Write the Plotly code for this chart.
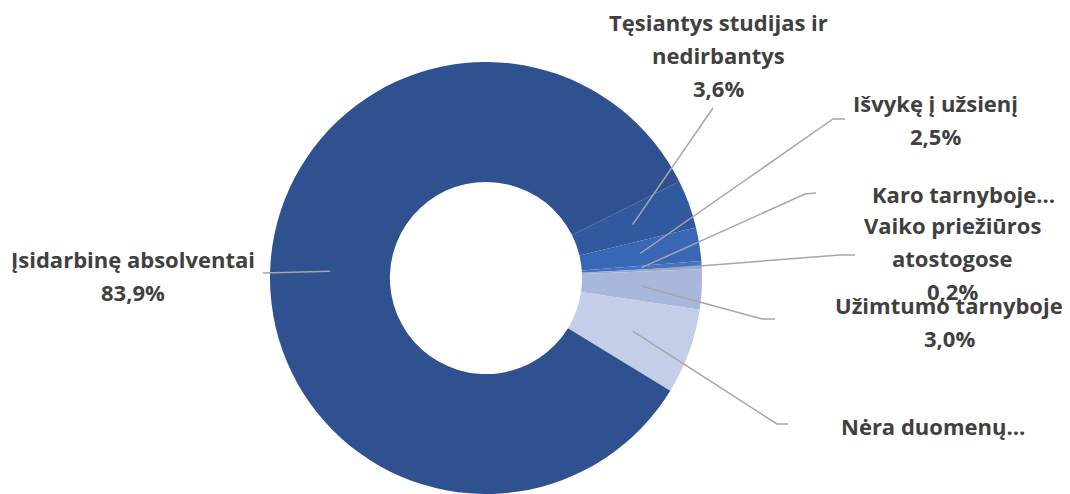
import math
import plotly.graph_objects as go

# ---- data ----
categories = ["Tęsiantys studijas ir nedirbantys", "Išvykę į užsienį", "Karo tarnyboje",
              "Vaiko priežiūros atostogose", "Užimtumo tarnyboje", "Nėra duomenų",
              "Įsidarbinę absolventai"]
values = [3.6, 2.5, 0.4, 0.2, 3.0, 6.4, 83.9]
colors = ["#30599F", "#3A67B5", "#4472C4", "#8FAADC", "#A9B7DB", "#C3CEE8", "#2F5190"]

# ---- layout config (page pixels; page has an 8px body margin) ----
OFF = 8
W, H = 1070 - OFF, 494 - OFF
CX, CY, R = 486, 278, 216
HOLE = 0.445
ROTATION = 63.5
TXT = "#404040"
LINE = "#A6A6A6"
FS = 22
LH = 33

# label lines (None -> percentage text), centre x, first-line y
label_cfg = [
    (["Tęsiantys studijas ir", "nedirbantys", None], 718, 22),
    (["Išvykę į užsienį", None], 935, 103),
    (["Karo tarnyboje…"], 963, 194),
    (["Vaiko priežiūros", "atostogose", None], 952, 225),
    (["Užimtumo tarnyboje", None], 949, 305),
    (["Nėra duomenų…"], 933, 426),
    (["Įsidarbinę absolventai", None], 133, 259),
]
# leader line elbow / end points
leader_cfg = [
    (None, (713, 108)),
    ((833, 119), (845, 119)),
    ((805, 194), (816, 193)),
    ((840, 255), (855, 255)),
    ((762, 319), (775, 319)),
    ((777, 424), (788, 424)),
    (None, (263, 273)),
]


def fx(x):
    return x - OFF


def fy(y):
    return y - OFF


fig = go.Figure()
cxf, cyf = fx(CX), fy(CY)
fig.add_trace(go.Pie(
    labels=categories, values=values, hole=HOLE, sort=False, direction="clockwise",
    rotation=ROTATION, textinfo="none", hoverinfo="label+percent",
    marker=dict(colors=colors, line=dict(width=0)),
    domain=dict(x=[(cxf - R) / W, (cxf + R) / W],
                y=[max(0.0, (H - cyf - R) / H), (H - cyf + R) / H]),
    showlegend=False,
))

total = sum(values)
cum = 0.0
r_mid = (R + R * HOLE) / 2
annotations = []
shapes = []
for i, v in enumerate(values):
    mid = ROTATION + (cum + v / 2) / total * 360.0
    cum += v
    a = math.radians(mid)
    sx, sy = CX + r_mid * math.sin(a), CY - r_mid * math.cos(a)
    elbow, end = leader_cfg[i]
    pts = [(sx, sy)]
    if elbow:
        pts.append(elbow)
    pts.append(end)
    path = "M " + " L ".join(f"{fx(px):.1f},{fy(py):.1f}" for px, py in pts)
    shapes.append(dict(type="path", path=path, xref="x", yref="y", layer="above",
                       line=dict(color=LINE, width=1.5)))
    lines, lx, ly = label_cfg[i]
    pct = f"{v:.1f}".replace(".", ",") + "%"
    for k, t in enumerate(lines):
        annotations.append(dict(
            x=fx(lx), y=fy(ly + k * LH), xref="x", yref="y", text=t if t else pct,
            showarrow=False, xanchor="center", yanchor="middle",
            font=dict(family="Open Sans", size=FS, color=TXT, weight="bold")))

fig.update_layout(
    width=W, height=H, margin=dict(l=0, r=0, t=0, b=0),
    paper_bgcolor="white", plot_bgcolor="rgba(0,0,0,0)",
    xaxis=dict(range=[0, W], visible=False, domain=[0, 1], fixedrange=True),
    yaxis=dict(range=[H, 0], visible=False, domain=[0, 1], fixedrange=True),
    annotations=annotations, shapes=shapes,
)
fig.write_html("out.html")
